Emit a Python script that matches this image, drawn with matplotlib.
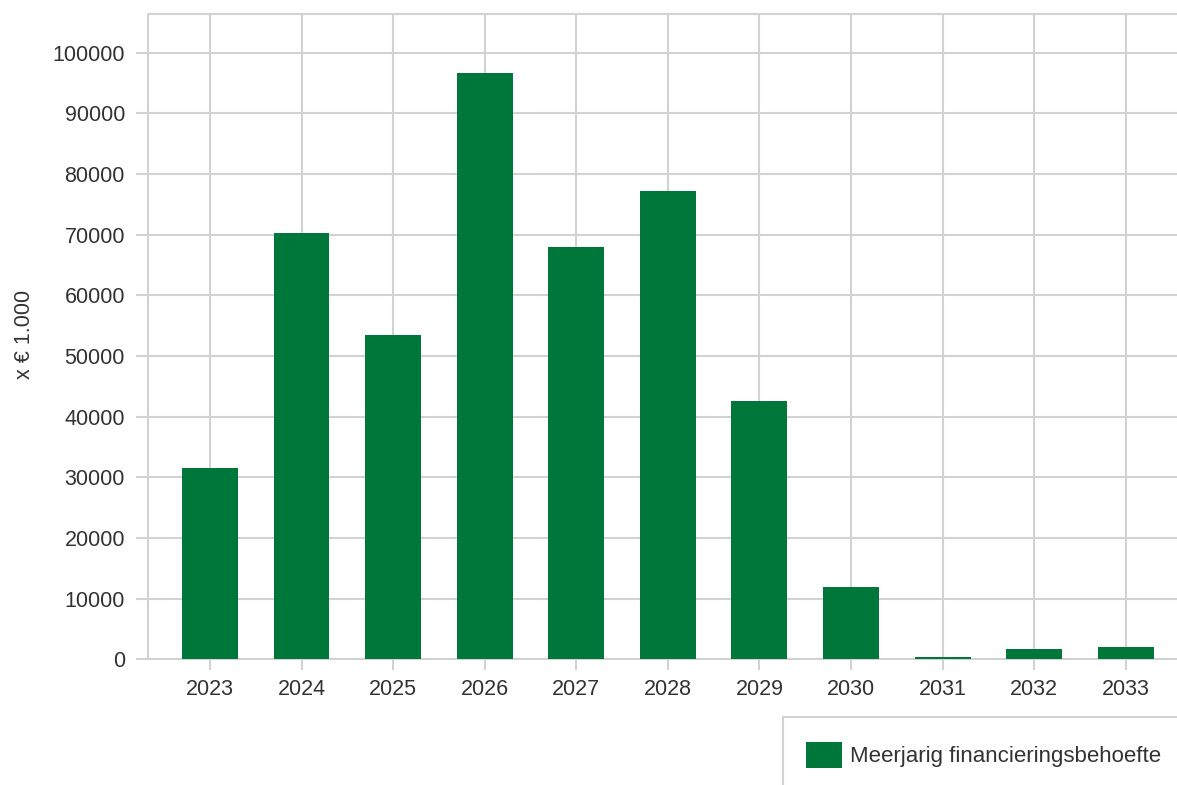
import matplotlib
matplotlib.use("Agg")
from matplotlib import pyplot as plt
from matplotlib.patches import Rectangle, Patch

years = ["2023", "2024", "2025", "2026", "2027", "2028", "2029", "2030", "2031", "2032", "2033"]
values = [31600, 70350, 53550, 96700, 68050, 77250, 42650, 11900, 400, 1700, 2050]
y_ticks = [0, 10000, 20000, 30000, 40000, 50000, 60000, 70000, 80000, 90000, 100000]
series_label = "Meerjarig financieringsbehoefte"
y_label = "x € 1.000"

bar_color = "#00773a"
grid_color = "#d2d2d2"
text_color = "#333333"

plt.rcParams["font.family"] = ["Liberation Sans", "DejaVu Sans"]

fig = plt.figure(figsize=(11.77, 7.85), dpi=100)
W, H = 1177, 785
ax = fig.add_axes([148 / W, 1 - 659.3 / H, 1 - 148 / W, (659.3 - 14.3) / H])

x = list(range(len(years)))
ax.bar(x, values, width=0.61, color=bar_color, zorder=3)

ax.set_xlim(-0.677, 10.56)
ax.set_ylim(0, 106350)
ax.set_xticks(x)
ax.set_xticklabels(years)
ax.set_yticks(y_ticks)
ax.set_yticklabels([str(v) for v in y_ticks])

ax.grid(True, color=grid_color, linewidth=1.5, zorder=0)
for side in ["left", "bottom", "top"]:
    ax.spines[side].set_color(grid_color)
    ax.spines[side].set_linewidth(1.5)
ax.spines["right"].set_visible(False)

ax.tick_params(axis="y", length=8.6, width=1.5, color=grid_color, pad=8,
               labelsize=15.5, labelcolor=text_color)
ax.tick_params(axis="x", length=7.9, width=1.5, color=grid_color, pad=6,
               labelsize=15.5, labelcolor=text_color)

fig.text(25 / W, 1 - 334 / H, y_label, rotation=90, ha="center", va="center",
         fontsize=15.5, color=text_color)

# legend box, runs off the bottom right corner like the original
fig.patches.append(Rectangle((783 / W, -0.05), 0.5, (1 - 717 / H) + 0.05,
                             transform=fig.transFigure, facecolor="white",
                             edgecolor=grid_color, linewidth=1.5))
fig.legend(handles=[Patch(facecolor=bar_color, label=series_label)],
           loc="center left", bbox_to_anchor=(806 / W, 1 - 755 / H),
           frameon=False, fontsize=16, handlelength=1.6, handleheight=1.4,
           handletextpad=0.4, borderpad=0, borderaxespad=0,
           labelcolor=text_color)

fig.savefig("out.png", dpi=100)
